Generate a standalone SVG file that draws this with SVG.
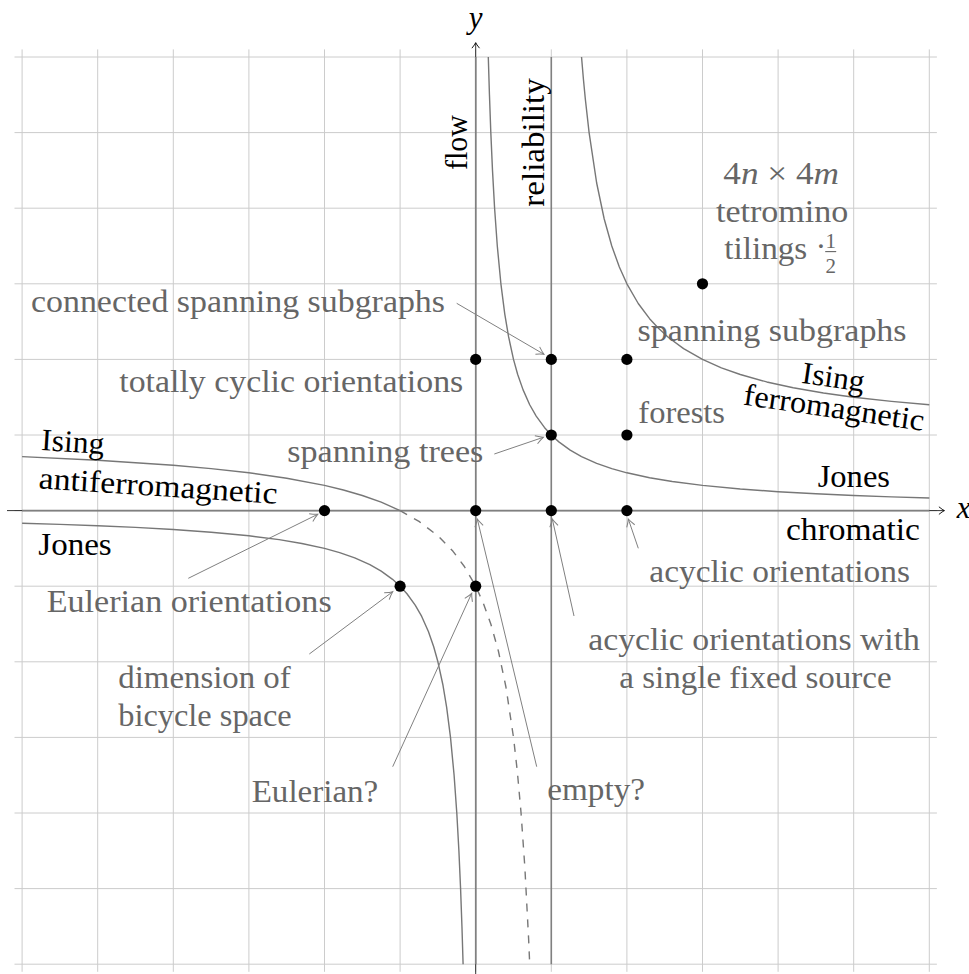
<svg xmlns="http://www.w3.org/2000/svg" xmlns:xlink="http://www.w3.org/1999/xlink" width="969" height="974" viewBox="0 0 969 974">
<style>
.grid line{stroke:#cccccc;stroke-width:1}
.axis{stroke:#000;stroke-width:0.8;fill:none}
.sp{stroke:#808080;stroke-width:1.6;fill:none}
.cv{stroke:#777777;stroke-width:1.4;fill:none;stroke-linejoin:round}
.dash{stroke-dasharray:8 8}
.conn path{stroke:#808080;stroke-width:1;fill:none}
.pt{fill:#000}
text{font-family:"Liberation Serif","Times New Roman",serif;font-size:31px}
.g{fill:#666666}
.k{fill:#000000}
.i{font-style:italic}
</style>
<defs>
<marker id="ah" markerUnits="userSpaceOnUse" markerWidth="12" markerHeight="12" viewBox="-9 -6 10 12" refX="0" refY="0" orient="auto">
<path d="M-7.5,-4.2 Q-2.6,-1 0,0 Q-2.6,1 -7.5,4.2" stroke="#808080" stroke-width="1" fill="none"/>
</marker>
<marker id="ax" markerUnits="userSpaceOnUse" markerWidth="12" markerHeight="12" viewBox="-9 -6 10 12" refX="0" refY="0" orient="auto">
<path d="M-5.5,-3.8 Q-1.8,-0.8 0,0 Q-1.8,0.8 -5.5,3.8" stroke="#000" stroke-width="0.9" fill="none"/>
</marker>
<path id="jonesU" d="M488.3,57 L489.45,94.8 L490.82,132.6 L492.5,170.4 L494.6,208.2 L497.3,246 L500.9,283.8 L504.78,314.04 L508.57,336.72 L513.5,359.4 L517.7,374.5 L523,389.64 L529.7,404.76 L536.2,416.1 L544.43,427.44 L551.3,435 L558.86,441.87 L570.2,450.12 L581.54,456.6 L596.66,463.35 L611.78,468.6 L626.9,472.8 L649.58,477.73 L672.26,481.52 L702.5,485.4 L740.3,489 L778.1,491.7 L815.9,493.8 L853.7,495.48 L891.5,496.85 L929.3,498"/>
</defs>
<rect x="0" y="0" width="969" height="974" fill="#ffffff"/>

<g id="grid" class="grid">
<line x1="22.1" y1="49.4" x2="22.1" y2="971.8"/>
<line x1="97.7" y1="49.4" x2="97.7" y2="971.8"/>
<line x1="173.3" y1="49.4" x2="173.3" y2="971.8"/>
<line x1="248.9" y1="49.4" x2="248.9" y2="971.8"/>
<line x1="324.5" y1="49.4" x2="324.5" y2="971.8"/>
<line x1="400.1" y1="49.4" x2="400.1" y2="971.8"/>
<line x1="475.7" y1="49.4" x2="475.7" y2="971.8"/>
<line x1="551.3" y1="49.4" x2="551.3" y2="971.8"/>
<line x1="626.9" y1="49.4" x2="626.9" y2="971.8"/>
<line x1="702.5" y1="49.4" x2="702.5" y2="971.8"/>
<line x1="778.1" y1="49.4" x2="778.1" y2="971.8"/>
<line x1="853.7" y1="49.4" x2="853.7" y2="971.8"/>
<line x1="929.3" y1="49.4" x2="929.3" y2="971.8"/>
<line x1="14.5" y1="57" x2="936.9" y2="57"/>
<line x1="14.5" y1="132.6" x2="936.9" y2="132.6"/>
<line x1="14.5" y1="208.2" x2="936.9" y2="208.2"/>
<line x1="14.5" y1="283.8" x2="936.9" y2="283.8"/>
<line x1="14.5" y1="359.4" x2="936.9" y2="359.4"/>
<line x1="14.5" y1="435" x2="936.9" y2="435"/>
<line x1="14.5" y1="510.6" x2="936.9" y2="510.6"/>
<line x1="14.5" y1="586.2" x2="936.9" y2="586.2"/>
<line x1="14.5" y1="661.8" x2="936.9" y2="661.8"/>
<line x1="14.5" y1="737.4" x2="936.9" y2="737.4"/>
<line x1="14.5" y1="813" x2="936.9" y2="813"/>
<line x1="14.5" y1="888.6" x2="936.9" y2="888.6"/>
<line x1="14.5" y1="964.2" x2="936.9" y2="964.2"/>
</g>

<g id="axes">
<path class="axis" d="M7,510.6 H944.4" marker-end="url(#ax)"/>
<path class="axis" d="M475.7,980 V42.7" marker-end="url(#ax)"/>
<text class="k i" x="956.7" y="518">x</text>
<text class="k i" x="475.7" y="28" text-anchor="middle">y</text>
</g>

<g id="special-lines">
<line class="sp" x1="475.7" y1="57" x2="475.7" y2="964.2"/>
<line class="sp" x1="551.3" y1="57" x2="551.3" y2="964.2"/>
<line class="sp" x1="22.1" y1="510.6" x2="929.3" y2="510.6"/>
</g>

<g id="curves">
<use xlink:href="#jonesU" href="#jonesU" class="cv"/>
<use xlink:href="#jonesU" href="#jonesU" class="cv" transform="rotate(180 475.7 510.6)"/>
<path class="cv" d="M581.54,57 L583.4,79 L585.32,99 L589.1,132.6 L596.66,183 L604.22,219 L611.78,246 L619.34,267 L626.9,283.8 L638.24,303.52 L649.58,318.69 L658.2,328.07 L668.48,337.45 L683.6,348.6 L702.5,359.4 L721.4,367.8 L740.3,374.52 L766.76,381.95 L793.22,387.75 L823.46,393 L853.7,397.2 L891.5,401.4 L929.3,404.76"/>
<path class="cv" d="M22.1,456.6 L97.7,460.2 L173.3,465.24 L211.1,468.6 L248.9,472.8 L286.7,478.2 L324.5,485.4 L343.4,490 L362.3,495.48 L381.2,502.2 L400.1,510.6"/>
<path class="cv dash" d="M400.1,510.6 L419,521.4 L437.9,535.8 L453.02,551.31 L464.36,566.48 L475.7,586.2 L483.26,603 L490.82,624 L498.38,651 L505.94,687 L513.5,737.4 L517.28,771 L521.06,813 L524.84,867 L528.62,939 L529.7,964.2"/>
</g>

<g id="connectors" class="conn">
<path d="M456.7,303.3 L544,354.3" marker-end="url(#ah)"/>
<path d="M494.3,454 L543.3,437.3" marker-end="url(#ah)"/>
<path d="M638.3,548.3 L628.3,519" marker-end="url(#ah)"/>
<path d="M574,616 L552.3,519" marker-end="url(#ah)"/>
<path d="M188.3,578.3 L317.7,514.3" marker-end="url(#ah)"/>
<path d="M309.3,654 L392.7,591.7" marker-end="url(#ah)"/>
<path d="M392.7,766.7 L471.7,593.3" marker-end="url(#ah)"/>
<path d="M536.7,766.7 L477.3,519" marker-end="url(#ah)"/>
</g>

<g id="points">
<g id="p-0-2"><circle class="pt" cx="475.7" cy="359.4" r="5.6"/></g>
<g id="p-1-2"><circle class="pt" cx="551.3" cy="359.4" r="5.6"/></g>
<g id="p-2-2"><circle class="pt" cx="626.9" cy="359.4" r="5.6"/></g>
<g id="p-1-1"><circle class="pt" cx="551.3" cy="435" r="5.6"/></g>
<g id="p-2-1"><circle class="pt" cx="626.9" cy="435" r="5.6"/></g>
<g id="p-m2-0"><circle class="pt" cx="324.5" cy="510.6" r="5.6"/></g>
<g id="p-0-0"><circle class="pt" cx="475.7" cy="510.6" r="5.6"/></g>
<g id="p-1-0"><circle class="pt" cx="551.3" cy="510.6" r="5.6"/></g>
<g id="p-2-0"><circle class="pt" cx="626.9" cy="510.6" r="5.6"/></g>
<g id="p-m1-m1"><circle class="pt" cx="400.1" cy="586.2" r="5.6"/></g>
<g id="p-0-m1"><circle class="pt" cx="475.7" cy="586.2" r="5.6"/></g>
<g id="p-3-3"><circle class="pt" cx="702.5" cy="283.8" r="5.6"/></g>
</g>

<g id="curve-labels">
<g id="lbl-flow"><text class="k" transform="translate(466.5,142.5) rotate(-90)" x="0" y="0" text-anchor="middle" textLength="55" lengthAdjust="spacingAndGlyphs">flow</text></g>
<g id="lbl-reliability"><text class="k" transform="translate(544,142.5) rotate(-90)" x="0" y="0" text-anchor="middle" textLength="128.4" lengthAdjust="spacingAndGlyphs">reliability</text></g>
<g id="lbl-ising-ferro" transform="translate(832,394.3) rotate(8.3)">
<text class="k" x="-1" y="-7" text-anchor="middle" textLength="63" lengthAdjust="spacingAndGlyphs">Ising</text>
<text class="k" x="4" y="23.1" text-anchor="middle" textLength="182" lengthAdjust="spacingAndGlyphs">ferromagnetic</text>
</g>
<g id="lbl-jones-right"><text class="k" x="817.7" y="486.7" textLength="72.3" lengthAdjust="spacingAndGlyphs">Jones</text></g>
<g id="lbl-chromatic"><text class="k" x="786" y="540" textLength="134" lengthAdjust="spacingAndGlyphs">chromatic</text></g>
<g id="lbl-ising-anti" transform="translate(38.3,488.3) rotate(3.7)">
<text class="k" x="0" y="-38.4" textLength="63" lengthAdjust="spacingAndGlyphs">Ising</text>
<text class="k" x="0" y="0" textLength="239" lengthAdjust="spacingAndGlyphs">antiferromagnetic</text>
</g>
<g id="lbl-jones-left"><text class="k" x="38.3" y="555" textLength="73.4" lengthAdjust="spacingAndGlyphs">Jones</text></g>
</g>

<g id="point-labels">
<g id="lbl-connected"><text class="g" x="31" y="312" textLength="414" lengthAdjust="spacingAndGlyphs">connected spanning subgraphs</text></g>
<g id="lbl-totally"><text class="g" x="119.3" y="392.3" textLength="344" lengthAdjust="spacingAndGlyphs">totally cyclic orientations</text></g>
<g id="lbl-trees"><text class="g" x="287.3" y="461.7" textLength="196" lengthAdjust="spacingAndGlyphs">spanning trees</text></g>
<g id="lbl-subgraphs"><text class="g" x="637.6" y="341.3" textLength="269" lengthAdjust="spacingAndGlyphs">spanning subgraphs</text></g>
<g id="lbl-forests"><text class="g" x="638.3" y="423.3" textLength="86.7" lengthAdjust="spacingAndGlyphs">forests</text></g>
<g id="lbl-acyclic"><text class="g" x="649.3" y="581.7" textLength="260.7" lengthAdjust="spacingAndGlyphs">acyclic orientations</text></g>
<g id="lbl-acyclic-source">
<text class="g" x="588.3" y="650" textLength="331.7" lengthAdjust="spacingAndGlyphs">acyclic orientations with</text>
<text class="g" x="619.3" y="688.3" textLength="272.4" lengthAdjust="spacingAndGlyphs">a single fixed source</text>
</g>
<g id="lbl-eulerian-or"><text class="g" x="46.7" y="611.7" textLength="285" lengthAdjust="spacingAndGlyphs">Eulerian orientations</text></g>
<g id="lbl-bicycle">
<text class="g" x="118.3" y="688.3" textLength="172.4" lengthAdjust="spacingAndGlyphs">dimension of</text>
<text class="g" x="118.3" y="726" textLength="173.4" lengthAdjust="spacingAndGlyphs">bicycle space</text>
</g>
<g id="lbl-eulerian-q"><text class="g" x="251.7" y="801.7" textLength="126.6" lengthAdjust="spacingAndGlyphs">Eulerian?</text></g>
<g id="lbl-empty"><text class="g" x="547.3" y="800" textLength="97.7" lengthAdjust="spacingAndGlyphs">empty?</text></g>
<g id="lbl-tetromino">
<text class="g" x="723.3" y="184" textLength="115.7" lengthAdjust="spacingAndGlyphs">4<tspan class="i">n</tspan> × 4<tspan class="i">m</tspan></text>
<text class="g" x="716" y="222.3" textLength="132.3" lengthAdjust="spacingAndGlyphs">tetromino</text>
<text class="g" x="724.3" y="259.3" textLength="82.9" lengthAdjust="spacingAndGlyphs">tilings</text>
<text class="g" x="821" y="257" text-anchor="middle">·</text>
<text class="g" x="830.7" y="247.5" text-anchor="middle" style="font-size:21px">1</text>
<line x1="825.2" y1="251.6" x2="836.2" y2="251.6" stroke="#666666" stroke-width="1.1"/>
<text class="g" x="830.7" y="272.5" text-anchor="middle" style="font-size:21px">2</text>
</g>
</g>
</svg>
